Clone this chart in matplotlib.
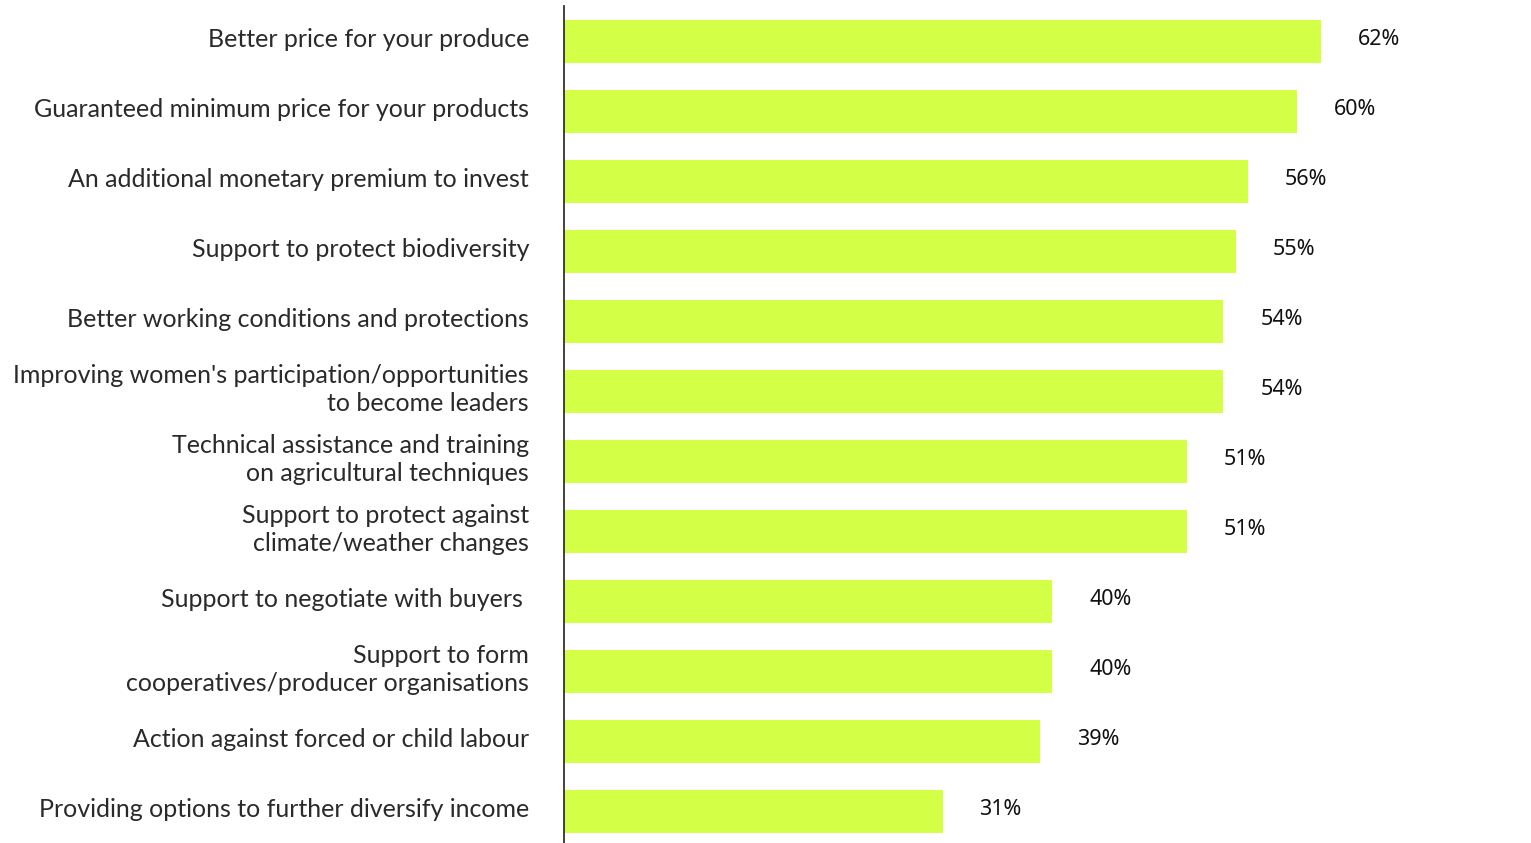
import numpy as np
import matplotlib.pyplot as plt

categories = [
    "Better price for your produce",
    "Guaranteed minimum price for your products",
    "An additional monetary premium to invest",
    "Support to protect biodiversity",
    "Better working conditions and protections",
    "Improving women's participation/opportunities\nto become leaders",
    "Technical assistance and training\non agricultural techniques",
    "Support to protect against\nclimate/weather changes",
    "Support to negotiate with buyers ",
    "Support to form\ncooperatives/producer organisations",
    "Action against forced or child labour",
    "Providing options to further diversify income",
]
values = [62, 60, 56, 55, 54, 54, 51, 51, 40, 40, 39, 31]

W, H = 1531, 843
fig = plt.figure(figsize=(W / 100, H / 100), dpi=100)
x0 = 564
px_per_pct = 12.21
ax = fig.add_axes([x0 / W, 0, (W - x0) / W, 1])

y = np.arange(len(values))
ax.barh(y, values, height=43 / 70, color="#d4ff47", zorder=2)

ax.set_xlim(0, (W - x0) / px_per_pct)
# pixel row of bar i centre = 41 + 70 * i ; axes spans 0..843
ax.set_ylim((H - 41) / 70, -41 / 70)
for s in ["top", "right", "bottom", "left"]:
    ax.spines[s].set_visible(False)
ax.set_xticks([])
ax.set_yticks([])
ax.plot([0, 0], [(H - 41) / 70, -35 / 70], color="#333333", lw=1.3,
        clip_on=False, zorder=3)

for i, (cat, v) in enumerate(zip(categories, values)):
    ax.text(-35 / px_per_pct, i - 0.02, cat, ha="right", va="center",
            fontsize=18, family="Lato", color="#2a2a2a",
            linespacing=1.3)
    ax.text(v + 37 / px_per_pct, i - 0.02, f"{v}%", ha="left", va="center",
            fontsize=15.5, family="Noto Sans", color="#111111")

fig.savefig("out.png", dpi=100, facecolor="white")
